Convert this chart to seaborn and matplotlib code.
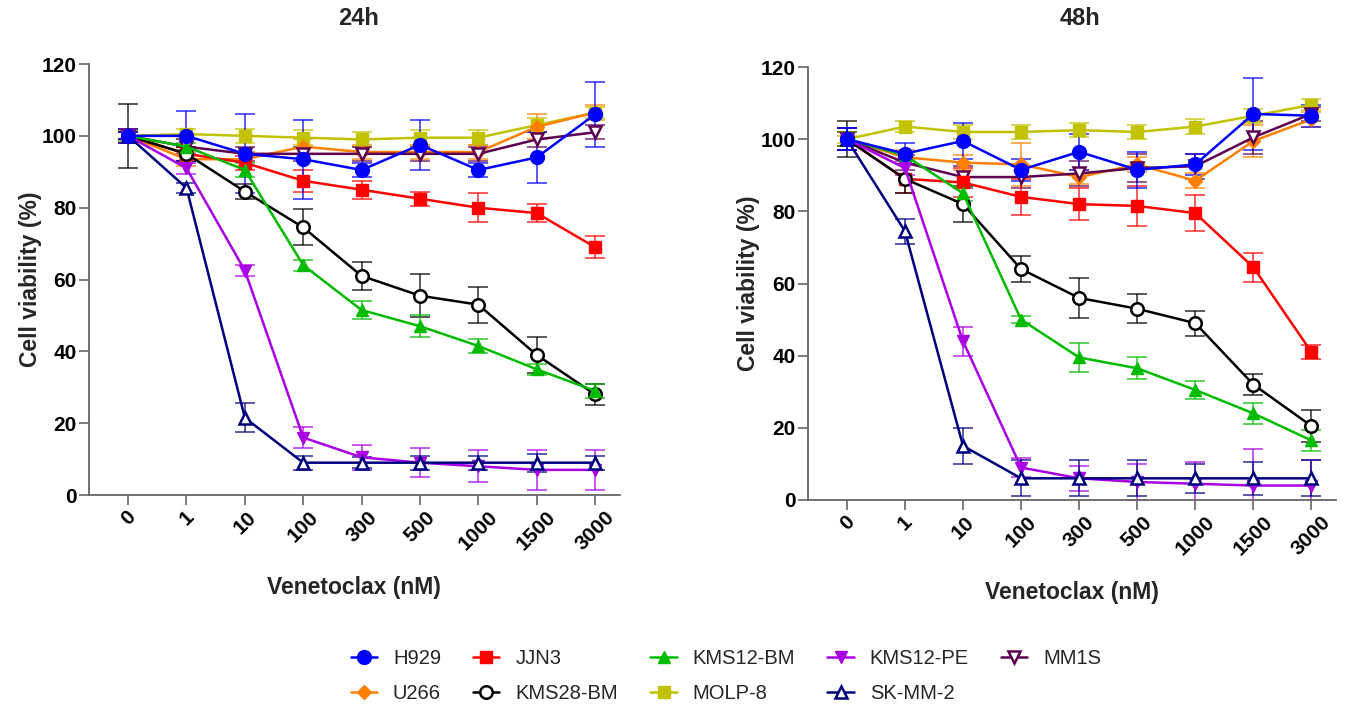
import numpy as np
import pandas as pd
import matplotlib
matplotlib.use("Agg")
import matplotlib.pyplot as plt
import seaborn as sns
from matplotlib.lines import Line2D

# ── data ───────────────────────────────────────────────────────────────────────
doses = ["0", "1", "10", "100", "300", "500", "1000", "1500", "3000"]
cell_lines = ["H929", "JJN3", "KMS12-BM", "KMS12-PE", "MM1S",
              "U266", "KMS28-BM", "MOLP-8", "SK-MM-2"]

# 24h means / SD
h24_mean = {
    "H929":     [100, 100, 95, 93.5, 90.5, 97.5, 90.5, 94, 106],
    "JJN3":     [100, 95, 92.5, 87.5, 85, 82.5, 80, 78.5, 69],
    "KMS12-BM": [100, 97, 90.5, 64, 51.5, 47, 41.5, 35, 29],
    "KMS12-PE": [100, 91, 62.5, 16, 10.5, 9, 8, 7, 7],
    "MM1S":     [100, 97, 95, 95, 95, 95, 95, 99, 101],
    "U266":     [100, 93.5, 93.5, 97, 95.5, 95.5, 95.5, 102.5, 106.5],
    "KMS28-BM": [100, 95, 84.5, 74.5, 61, 55.5, 53, 39, 28],
    "MOLP-8":   [100, 100.5, 100, 99.5, 99, 99.5, 99.5, 103, 106.5],
    "SK-MM-2":  [100, 85.5, 21.5, 9, 9, 9, 9, 9, 9],
}
h24_sd = {
    "H929":     [2, 7, 11, 11, 2, 7, 2, 7, 9],
    "JJN3":     [2, 2, 2, 3, 2.5, 2, 4, 2.5, 3],
    "KMS12-BM": [1.5, 1, 2, 1.5, 2.5, 3, 2, 1.5, 2],
    "KMS12-PE": [1, 1.5, 1.5, 3, 3.5, 4, 4.5, 5.5, 5.5],
    "MM1S":     [1, 2, 2, 2, 2, 2, 2, 2, 2],
    "U266":     [2, 2, 2, 2, 2, 2, 2, 3.5, 2],
    "KMS28-BM": [9, 2, 2, 5, 4, 6, 5, 5, 3],
    "MOLP-8":   [2, 1.5, 2, 2, 2, 2, 2, 2, 1.5],
    "SK-MM-2":  [1, 1.5, 4, 2, 1.5, 2, 2, 2.5, 2],
}

# 48h means / SD
h48_mean = {
    "H929":     [100, 96, 99.5, 91.5, 96.5, 91.5, 93, 107, 106.5],
    "JJN3":     [100, 89, 88, 84, 82, 81.5, 79.5, 64.5, 41],
    "KMS12-BM": [100, 95.5, 85, 50, 39.5, 36.5, 30.5, 24, 16.5],
    "KMS12-PE": [100, 92, 44, 9, 6, 5, 4.5, 4, 4],
    "MM1S":     [100, 93.5, 89.5, 89.5, 90.5, 92, 92.5, 100.5, 107],
    "U266":     [100, 95, 93.5, 93, 89.5, 93, 88.5, 99.5, 105.5],
    "KMS28-BM": [100, 89, 82, 64, 56, 53, 49, 32, 20.5],
    "MOLP-8":   [100, 103.5, 102, 102, 102.5, 102, 103.5, 106.5, 109.5],
    "SK-MM-2":  [100, 74.5, 15, 6, 6, 6, 6, 6, 6],
}
h48_sd = {
    "H929":     [3, 3, 5, 3, 5, 5, 3, 10, 3],
    "JJN3":     [2, 4, 4, 5, 4.5, 5.5, 5, 4, 2],
    "KMS12-BM": [2, 1, 2, 1, 4, 3, 2.5, 3, 3],
    "KMS12-PE": [3, 2, 4, 2.5, 3.5, 5, 6, 10, 7],
    "MM1S":     [3, 2, 3, 3, 3.5, 4, 3.5, 4.5, 2],
    "U266":     [2, 2, 2, 6, 2, 2, 2, 4.5, 2],
    "KMS28-BM": [5, 4, 5, 3.5, 5.5, 4, 3.5, 3, 4.5],
    "MOLP-8":   [1, 1.5, 2, 2, 2, 2, 2, 2, 1.5],
    "SK-MM-2":  [3, 3.5, 5, 5, 5, 5, 4, 4.5, 5],
}

# ── styles ─────────────────────────────────────────────────────────────────────
styles = {
    "H929":     dict(color="#0000FF", marker="o", ms=10, filled=True),
    "JJN3":     dict(color="#FF0000", marker="s", ms=9,  filled=True),
    "KMS12-BM": dict(color="#00BB00", marker="^", ms=9,  filled=True),
    "KMS12-PE": dict(color="#AA00E6", marker="v", ms=9,  filled=True),
    "MM1S":     dict(color="#5E0052", marker="v", ms=9,  filled=False),
    "U266":     dict(color="#FF8000", marker="D", ms=7,  filled=True),
    "KMS28-BM": dict(color="#000000", marker="o", ms=9,  filled=False),
    "MOLP-8":   dict(color="#C2C200", marker="s", ms=9,  filled=True),
    "SK-MM-2":  dict(color="#00007F", marker="^", ms=9,  filled=False),
}
draw_order = ["MOLP-8", "U266", "MM1S", "JJN3", "KMS28-BM", "KMS12-BM",
              "KMS12-PE", "SK-MM-2", "H929"]

sns.set_theme(style="ticks")
plt.rcParams["font.family"] = ["Liberation Sans", "DejaVu Sans"]

fig = plt.figure(figsize=(13.57, 7.10), dpi=100)
ax1 = fig.add_axes([0.0656, 0.3028, 0.391, 0.607])
ax2 = fig.add_axes([0.5954, 0.2958, 0.389, 0.6098])

x = np.arange(len(doses))


def draw_panel(ax, means, sds, title, title_x):
    for name in draw_order:
        st = styles[name]
        c = st["color"]
        ax.errorbar(x, means[name], yerr=sds[name], fmt="none",
                    ecolor=c, elinewidth=1.3, capsize=7, capthick=1.3,
                    alpha=0.7, zorder=2)
        sns.lineplot(x=x, y=means[name], ax=ax, color=c, linewidth=1.8,
                     marker=st["marker"], markersize=st["ms"],
                     markerfacecolor=c if st["filled"] else "white",
                     markeredgecolor=c,
                     markeredgewidth=1.0 if st["filled"] else 1.8,
                     legend=False, zorder=3)
    ax.set_xlim(-0.67, 8.42)
    ax.set_ylim(0, 120)
    ax.set_yticks(np.arange(0, 121, 20))
    ax.set_xticks(x)
    ax.set_xticklabels(doses, rotation=45, ha="center", fontsize=15,
                       fontweight="bold")
    for lab in ax.get_yticklabels():
        lab.set_fontsize(15)
        lab.set_fontweight("bold")
    ax.set_xlabel("Venetoclax (nM)", fontsize=16.5, fontweight="bold",
                  labelpad=16)
    ax.set_ylabel("Cell viability (%)", fontsize=16.5, fontweight="bold",
                  labelpad=0)
    fig.text(title_x, 0.974, title, ha="center", va="center",
             fontsize=17, fontweight="bold")
    sns.despine(ax=ax)
    for sp in ["left", "bottom"]:
        ax.spines[sp].set_color("#666666")
        ax.spines[sp].set_linewidth(1.3)
    ax.tick_params(axis="both", colors="#666666", labelcolor="black",
                   length=7, width=1.2, pad=2)


draw_panel(ax1, h24_mean, h24_sd, "24h", 359 / 1357)
draw_panel(ax2, h48_mean, h48_sd, "48h", 1080 / 1357)

# legend: column-major order to give the row layout of the figure
legend_order = ["H929", "U266", "JJN3", "KMS28-BM", "KMS12-BM", "MOLP-8",
                "KMS12-PE", "SK-MM-2", "MM1S"]
handles = []
for name in legend_order:
    st = styles[name]
    c = st["color"]
    handles.append(Line2D([0], [0], color=c, linewidth=1.8,
                          marker=st["marker"], markersize=st["ms"],
                          markerfacecolor=c if st["filled"] else "white",
                          markeredgecolor=c,
                          markeredgewidth=1.0 if st["filled"] else 1.8))
fig.legend(handles, legend_order, loc="center", ncol=5,
           bbox_to_anchor=(0.535, 0.048), frameon=False, fontsize=14.5,
           handlelength=1.3, columnspacing=1.6, handletextpad=0.8,
           labelspacing=0.8)

plt.savefig("out.png", dpi=100)
